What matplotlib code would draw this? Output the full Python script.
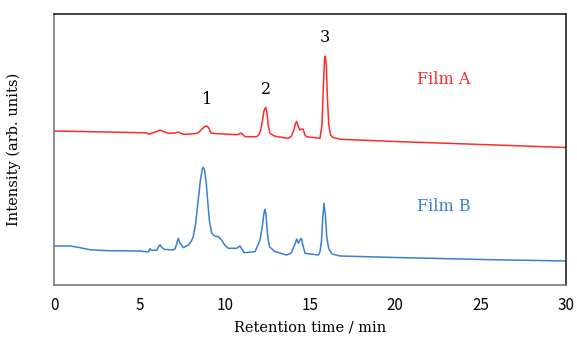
import matplotlib
matplotlib.use("Agg")
import matplotlib.pyplot as plt

# Retention time (min) and detector response (arb. units) for the two films
time_a = [0.0, 1.5, 3.0, 5.04, 5.45, 5.58, 5.75, 6.05, 6.2, 6.4, 6.7, 7.1, 7.28,
          7.45, 7.58, 8.1, 8.36, 8.5, 8.7, 8.85, 8.95, 9.05, 9.15, 9.24, 9.92,
          10.7, 10.85, 10.96, 11.08, 11.19, 11.87, 12.0, 12.11, 12.2, 12.3, 12.4,
          12.48, 12.55, 12.65, 12.95, 13.73, 13.9, 14.05, 14.15, 14.22, 14.3,
          14.41, 14.5, 14.6, 14.7, 14.8, 15.58, 15.7, 15.78, 15.85, 15.9, 15.96,
          16.02, 16.1, 16.2, 16.35, 16.56, 16.76, 20.0, 25.0, 30.0]
signal_a = [154.0, 153.5, 153.0, 152.3, 152.0, 150.7, 152.0, 153.5, 155.0, 153.5,
            151.7, 152.0, 153.0, 151.5, 150.7, 151.0, 151.7, 153.0, 156.5, 158.7,
            159.0, 157.5, 153.5, 151.7, 151.0, 150.3, 151.0, 152.0, 150.0, 148.3,
            148.3, 150.0, 155.0, 163.0, 174.0, 177.7, 172.0, 160.0, 151.7, 148.7,
            146.7, 148.5, 155.0, 161.5, 163.7, 159.0, 155.0, 156.0, 155.7, 150.0,
            148.3, 146.7, 160.0, 198.0, 225.0, 229.0, 218.0, 186.0, 160.0, 150.0,
            147.5, 146.7, 145.7, 143.5, 140.5, 137.5]

time_b = [0.06, 0.94, 1.52, 2.1, 3.09, 5.04, 5.53, 5.62, 5.72, 6.02, 6.12, 6.21,
          6.3, 6.45, 6.99, 7.1, 7.2, 7.28, 7.38, 7.58, 7.87, 8.05, 8.16, 8.3, 8.45,
          8.58, 8.68, 8.75, 8.82, 8.92, 9.0, 9.1, 9.24, 9.4, 9.63, 9.82, 10.0,
          10.21, 10.7, 10.9, 11.13, 11.78, 12.07, 12.2, 12.3, 12.36, 12.42, 12.5,
          12.62, 12.95, 13.63, 13.9, 14.1, 14.22, 14.32, 14.42, 14.49, 14.58,
          14.71, 15.0, 15.49, 15.58, 15.67, 15.75, 15.82, 15.9, 15.98, 16.1,
          16.3, 16.76, 20.0, 25.0, 30.0]
signal_b = [39.0, 39.0, 37.3, 35.3, 34.3, 34.0, 33.0, 36.3, 34.7, 34.7, 38.0, 40.3,
            38.0, 35.7, 35.0, 36.5, 42.0, 46.7, 42.0, 37.3, 40.0, 44.0, 48.3, 62.0,
            85.0, 105.0, 115.5, 117.7, 115.0, 102.0, 85.0, 65.0, 51.7, 49.0, 48.3,
            45.0, 40.0, 36.7, 36.7, 39.0, 32.3, 33.3, 45.0, 58.0, 72.0, 75.7, 70.0,
            52.0, 38.3, 33.3, 30.0, 32.0, 40.0, 46.0, 41.7, 45.5, 46.7, 40.0, 31.7,
            31.0, 30.0, 33.0, 44.0, 68.0, 81.7, 70.0, 48.0, 36.0, 31.0, 29.0, 27.5,
            25.5, 24.0]

peak_labels = ["1", "2", "3"]
peak_times = [8.95, 12.4, 15.88]
peak_heights = [159.0, 177.7, 229.0]
label_gap = [26, 18, 18]

RED = "#ff2a2a"
BLUE = "#3a80d2"
SERIF = "DejaVu Serif"

fig = plt.figure(figsize=(5.77, 3.42), dpi=100)
ax = fig.add_axes([0.0936, 0.1667, 0.8874, 0.7924])

ax.plot(time_a, signal_a, color=RED, lw=1.1)
ax.plot(time_b, signal_b, color=BLUE, lw=1.1)

for lab, t, h, gap in zip(peak_labels, peak_times, peak_heights, label_gap):
    ax.text(t, h + gap, lab, ha="center", va="center",
            fontsize=11.5, family=SERIF, color="black")

ax.text(22.85, 205, "Film A", ha="center", va="center",
        fontsize=11.5, family=SERIF, color=RED)
ax.text(22.85, 78, "Film B", ha="center", va="center",
        fontsize=11.5, family=SERIF, color=BLUE)

ax.set_xlim(0, 30)
ax.set_ylim(0, 271)
ax.set_xticks([0, 5, 10, 15, 20, 25, 30])
ax.set_yticks([])
ax.tick_params(axis="x", length=0, pad=9, labelsize=11)
for lbl in ax.get_xticklabels():
    lbl.set_family("Noto Sans CJK JP")

ax.set_xlabel("Retention time / min", family=SERIF, fontsize=10.5, labelpad=4)
ax.set_ylabel("Intensity (arb. units)", family=SERIF, fontsize=10.5, labelpad=24)

for side in ("left", "bottom"):
    ax.spines[side].set_color("#6e6e6e")
for side in ("top", "right"):
    ax.spines[side].set_color("#111111")
for sp in ax.spines.values():
    sp.set_linewidth(1.1)

fig.savefig("out.png", dpi=100)
